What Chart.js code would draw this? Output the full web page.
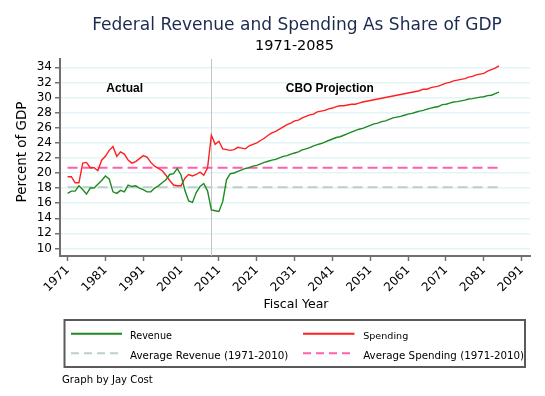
<!DOCTYPE html>
<html><head><meta charset="utf-8">
<script src="https://cdn.jsdelivr.net/npm/chart.js@4"></script>
<style>html,body{margin:0;padding:0;background:#fff;} #wrap{width:545px;height:396px;}</style>
</head><body><div id="wrap"><canvas id="c" width="545" height="396"></canvas></div>
<script>
// ---------- data ----------
const firstYear = 1971;
const revenue = [
 17.3,17.6,17.6,18.3,17.8,17.2,18.0,18.0,18.5,19.0,   // 1971-1980
 19.6,19.2,17.5,17.3,17.7,17.5,18.4,18.2,18.3,18.0,   // 1981-1990
 17.8,17.5,17.5,18.0,18.3,18.7,19.1,19.8,19.9,20.6,   // 1991-2000
 19.7,17.7,16.3,16.1,17.4,18.2,18.6,17.6,15.1,15.0,   // 2001-2010
 14.9,16.2,19.1,19.9,20.0,20.2,20.4,20.6,20.7,20.9,   // 2011-2020
 21.0,21.2,21.4,21.55,21.7,21.8,22.0,22.2,22.3,22.5,  // 2021-2030
 22.65,22.8,23.05,23.2,23.35,23.6,23.75,23.9,24.1,24.3, // 2031-2040
 24.5,24.7,24.8,25.0,25.2,25.4,25.6,25.8,25.9,26.1,   // 2041-2050
 26.3,26.5,26.6,26.8,26.9,27.1,27.3,27.4,27.5,27.65,  // 2051-2060
 27.8,27.9,28.05,28.2,28.3,28.45,28.6,28.7,28.8,29.05, // 2061-2070
 29.1,29.25,29.4,29.45,29.55,29.65,29.8,29.85,29.95,30.05, // 2071-2080
 30.1,30.25,30.3,30.5,30.7                            // 2081-2085
];
const spending = [
 19.5,19.5,18.7,18.7,21.3,21.4,20.7,20.7,20.3,21.7,   // 1971-1980
 22.2,23.0,23.5,22.2,22.8,22.5,21.7,21.3,21.5,21.9,   // 1981-1990
 22.3,22.1,21.4,20.9,20.6,20.3,19.7,19.0,18.4,18.3,   // 1991-2000
 18.3,19.3,19.8,19.6,19.8,20.1,19.7,20.7,25.0,23.8,   // 2001-2010
 24.2,23.2,23.1,23.0,23.1,23.4,23.3,23.2,23.6,23.8,   // 2011-2020
 24.0,24.3,24.6,25.0,25.3,25.5,25.8,26.1,26.4,26.6,   // 2021-2030
 26.9,27.0,27.3,27.5,27.7,27.8,28.1,28.2,28.3,28.5,   // 2031-2040
 28.6,28.8,28.9,28.9,29.0,29.1,29.1,29.25,29.4,29.5,  // 2041-2050
 29.6,29.7,29.8,29.9,30.0,30.1,30.2,30.3,30.4,30.5,   // 2051-2060
 30.6,30.7,30.8,30.9,31.1,31.1,31.3,31.4,31.5,31.7,   // 2061-2070
 31.9,32.0,32.2,32.3,32.4,32.5,32.7,32.8,33.0,33.1,   // 2071-2080
 33.2,33.5,33.7,33.9,34.2                             // 2081-2085
];
const avgRevenue = 18.1;
const avgSpending = 20.7;
const avgSpan = [1971, 2085];
const projectionStart = 2009;
const xTickLabels = [1971,1981,1991,2001,2011,2021,2031,2041,2051,2061,2071,2081,2091];
const yTickLabels = [10,12,14,16,18,20,22,24,26,28,30,32,34];
const seriesNames = ['Revenue','Spending','Average Revenue (1971-2010)','Average Spending (1971-2010)'];
const titleText = 'Federal Revenue and Spending As Share of GDP';
const subtitleText = '1971-2085';
const xTitle = 'Fiscal Year';
const yTitle = 'Percent of GDP';
const noteActual = 'Actual';
const noteProjection = 'CBO Projection';
const creditText = 'Graph by Jay Cost';

// ---------- helpers ----------
const SANS = '"DejaVu Sans", "Liberation Sans", sans-serif';
const BOLD = '"Liberation Sans", Arial, sans-serif';
function fitText(ctx, text, x, baseline, width, family, weight, color, align, rot){
  ctx.save();
  ctx.font = weight + ' 20px ' + family;
  const w = ctx.measureText(text).width;
  const size = 20 * width / w;
  ctx.font = weight + ' ' + size.toFixed(2) + 'px ' + family;
  ctx.fillStyle = color; ctx.textAlign = align || 'center'; ctx.textBaseline = 'alphabetic';
  if (rot) { ctx.translate(x, baseline); ctx.rotate(rot); ctx.fillText(text, 0, 0); }
  else ctx.fillText(text, x, baseline);
  ctx.restore();
}

const colors = {rev:'#1f8a22', spe:'#ff1f1f', avgRev:'#bccfcc', avgSpe:'#ff5fae'};

const decor = {
  id:'decor',
  beforeDatasetsDraw(chart){
    const {ctx, chartArea:a, scales:{x}} = chart;
    const px = x.getPixelForValue(projectionStart);
    ctx.save();
    ctx.strokeStyle = '#c4c4c4'; ctx.lineWidth = 1;
    ctx.beginPath(); ctx.moveTo(Math.round(px)+0.5, a.top); ctx.lineTo(Math.round(px)+0.5, a.bottom); ctx.stroke();
    ctx.restore();
  },
  afterDraw(chart){
    const {ctx, scales:{x,y}} = chart;
    fitText(ctx, titleText, 297, 29.5, 410, SANS, 'normal', '#1c2a4e', 'center');
    fitText(ctx, subtitleText, 294.5, 50, 79, SANS, 'normal', '#000', 'center');
    fitText(ctx, xTitle, 296, 308, 65, SANS, 'normal', '#000', 'center');
    fitText(ctx, yTitle, 26, 152, 101, SANS, 'normal', '#000', 'center', -Math.PI/2);
    fitText(ctx, noteActual, x.getPixelForValue(1986.1), y.getPixelForValue(30.67), 36.7, BOLD, 'bold', '#000', 'center');
    fitText(ctx, noteProjection, x.getPixelForValue(2040.3), y.getPixelForValue(30.67), 88, BOLD, 'bold', '#000', 'center');
    // legend
    ctx.save();
    ctx.strokeStyle = '#5a5a5a'; ctx.lineWidth = 2;
    ctx.strokeRect(64.5, 320, 460.5, 47);
    const rows = [338.5, 358.5], lineY = [333.8, 353.3];
    const cols = [[71, 122, 130], [303, 354.5, 363.2]];
    const items = [
      {c:colors.rev, dash:[], w:2, txt:seriesNames[0], tw:42, r:0, k:0},
      {c:colors.spe, dash:[], w:2, txt:seriesNames[1], tw:45, r:0, k:1},
      {c:colors.avgRev, dash:[8,5], w:2, txt:seriesNames[2], tw:158.5, r:1, k:0},
      {c:colors.avgSpe, dash:[8,5], w:2, txt:seriesNames[3], tw:161, r:1, k:1}
    ];
    items.forEach(it=>{
      const col = cols[it.k];
      ctx.save();
      ctx.strokeStyle = it.c; ctx.lineWidth = it.w; ctx.setLineDash(it.dash);
      ctx.beginPath(); ctx.moveTo(col[0], lineY[it.r]); ctx.lineTo(col[1], lineY[it.r]); ctx.stroke();
      ctx.restore();
      fitText(ctx, it.txt, col[2], rows[it.r], it.tw, SANS, 'normal', '#000', 'left');
    });
    ctx.restore();
    fitText(ctx, creditText, 62, 382.5, 91, SANS, 'normal', '#000', 'left');
  }
};

const pts = arr => arr.map((v,i)=>({x:firstYear+i, y:v}));
const flat = v => avgSpan.map(yr=>({x:yr, y:v}));

new Chart(document.getElementById('c').getContext('2d'), {
  type:'line',
  data:{datasets:[
    {label:seriesNames[0], data:pts(revenue), borderColor:colors.rev, borderWidth:1.4, pointRadius:0, tension:0},
    {label:seriesNames[1], data:pts(spending), borderColor:colors.spe, borderWidth:1.4, pointRadius:0, tension:0},
    {label:seriesNames[2], data:flat(avgRevenue), borderColor:colors.avgRev, borderDash:[10,5], borderWidth:2, pointRadius:0},
    {label:seriesNames[3], data:flat(avgSpending), borderColor:colors.avgSpe, borderDash:[10,5], borderWidth:2, pointRadius:0}
  ]},
  options:{
    responsive:false, animation:false, devicePixelRatio:1,
    layout:{padding:{top:59, left:0, right:15, bottom:0}},
    plugins:{legend:{display:false}, tooltip:{enabled:false}, title:{display:false}},
    scales:{
      x:{type:'linear', min:1969, max:2093.2,
        afterBuildTicks:s=>{ s.ticks = xTickLabels.map(v=>({value:v})); },
        afterFit:s=>{ s.height = 140; },
        ticks:{minRotation:45, maxRotation:45, autoSkip:false, padding:2, color:'#000',
               font:{family:SANS, size:12}, callback:v=>String(v)},
        grid:{drawOnChartArea:false, drawTicks:true, tickLength:5, color:'#707070', tickWidth:1.5},
        border:{color:'#707070', width:2}},
      y:{type:'linear', min:9, max:35.1,
        afterBuildTicks:s=>{ s.ticks = yTickLabels.map(v=>({value:v})); },
        afterFit:s=>{ s.width = 60; },
        ticks:{autoSkip:false, padding:3, color:'#000', font:{family:SANS, size:12}, callback:v=>String(v)},
        grid:{color:'#e2f5f7', lineWidth:1.5, tickColor:'#707070', tickLength:5, tickWidth:1.5},
        border:{color:'#707070', width:2}}
    }
  },
  plugins:[decor]
});
</script></body></html>
